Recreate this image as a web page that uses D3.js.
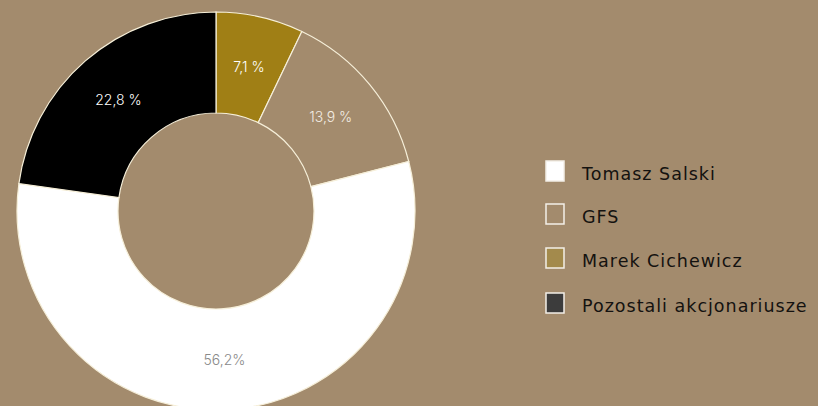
<!DOCTYPE html>
<html><head><meta charset="utf-8">
<script src="https://cdn.jsdelivr.net/npm/d3@7"></script>
<style>
html,body{margin:0;padding:0;background:#a38b6d;}
svg{display:block;}
</style></head>
<body>
<svg id="c" width="818" height="406"></svg>
<script>
const categories = ["Marek Cichewicz","GFS","Tomasz Salski","Pozostali akcjonariusze"];
const values = [7.1, 13.9, 56.2, 22.8];
const labels = ["7,1 %","13,9 %","56,2%","22,8 %"];
const legendOrder = ["Tomasz Salski","GFS","Marek Cichewicz","Pozostali akcjonariusze"];

const bg = "#a38b6d";
const sliceColors = {"Marek Cichewicz":"#a07f15","GFS":bg,"Tomasz Salski":"#ffffff","Pozostali akcjonariusze":"#000000"};
const legendColors = {"Marek Cichewicz":"#a38a4c","GFS":bg,"Tomasz Salski":"#ffffff","Pozostali akcjonariusze":"#3c3c3c"};
const labelColors = {"Marek Cichewicz":"#ffffff","GFS":"#f3ede4","Tomasz Salski":"#8a8a8a","Pozostali akcjonariusze":"#ffffff"};

const svg = d3.select("#c");
const cx = 216, cy = 211, R = 199, r = 98;
const data = categories.map((c,i)=>({cat:c,value:values[i],label:labels[i]}));
const pie = d3.pie().value(d=>d.value).sort(null);
const arc = d3.arc().innerRadius(r).outerRadius(R);
const g = svg.append("g").attr("transform",`translate(${cx},${cy})`);
const arcs = pie(data);
g.selectAll("path").data(arcs).join("path")
  .attr("d",arc)
  .attr("fill",d=>sliceColors[d.data.cat])
  .attr("stroke","#f6efd9").attr("stroke-width",1.2);
g.selectAll("text").data(arcs).join("text")
  .attr("x",d=>arc.centroid(d)[0])
  .attr("y",d=>arc.centroid(d)[1])
  .attr("text-anchor","middle").attr("dominant-baseline","central")
  .attr("font-family","Inter, 'Open Sans', sans-serif")
  .attr("font-weight",300)
  .attr("font-size",14)
  .attr("fill",d=>labelColors[d.data.cat])
  .text(d=>d.data.label);

const ly = [171, 214, 258, 303];
const lg = svg.append("g");
legendOrder.forEach((c,i)=>{
  lg.append("rect").attr("x",546).attr("y",ly[i]-10).attr("width",18).attr("height",20)
    .attr("fill",legendColors[c]).attr("stroke","#f4efe8").attr("stroke-width",1.5);
  lg.append("text").attr("x",582).attr("y",ly[i]+9)
    .attr("font-family","'DejaVu Sans', sans-serif").attr("font-size",17.5)
    .attr("letter-spacing",1.0)
    .attr("fill","#141210").text(c);
});
</script>
</body></html>
